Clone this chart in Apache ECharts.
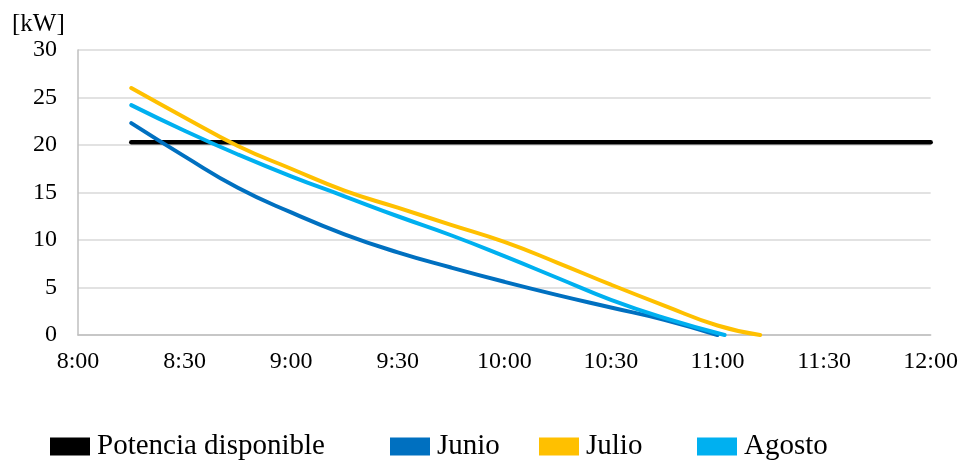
<!DOCTYPE html>
<html>
<head>
<meta charset="utf-8">
<script src="https://cdn.jsdelivr.net/npm/echarts@6/dist/echarts.min.js"></script>
<style>
  html, body { margin: 0; padding: 0; background: #fff; }
  #chart { width: 961px; height: 462px; }
</style>
</head>
<body>
<div id="chart"></div>
<script>
// Hourly power profile: available power vs. demand per month
const unidad = '[kW]';
const ticksHoras = ['8:00', '8:30', '9:00', '9:30', '10:00', '10:30', '11:00', '11:30', '12:00'];

const horasPotencia = ['8:15', '12:00'];
const potencia = [20.3, 20.3];

const horasJunio = ['8:15', '8:30', '8:45', '9:00', '9:15', '9:30', '9:45', '10:00', '10:15', '10:30', '10:45', '11:00'];
const junio = [22.3, 18.8, 15.5, 12.9, 10.6, 8.7, 7.1, 5.6, 4.2, 2.9, 1.6, 0];

const horasJulio = ['8:15', '8:30', '8:45', '9:00', '9:15', '9:30', '9:45', '10:00', '10:15', '10:30', '10:45', '11:00', '11:12'];
const julio = [26.0, 22.9, 19.9, 17.5, 15.2, 13.4, 11.6, 9.8, 7.6, 5.3, 3.1, 1.0, 0];

const horasAgosto = ['8:15', '8:30', '8:45', '9:00', '9:15', '9:30', '9:45', '10:00', '10:15', '10:30', '10:45', '11:02'];
const agosto = [24.2, 21.5, 19.0, 16.7, 14.6, 12.5, 10.5, 8.3, 6.0, 3.7, 1.8, 0];

const FONT = 'Liberation Serif';
const INICIO = 8 * 60;

// "h:mm" -> minutes since 8:00
function aMinutos(h) {
  const [hh, mm] = h.split(':').map(Number);
  return hh * 60 + mm - INICIO;
}
function pares(horas, valores) {
  return horas.map((h, i) => [aMinutos(h), valores[i]]);
}

const chart = echarts.init(document.getElementById('chart'), null, { renderer: 'canvas' });

function serie(nombre, horas, valores, color, ancho) {
  return {
    name: nombre,
    type: 'line',
    data: pares(horas, valores),
    showSymbol: false,
    smooth: 0.5,
    lineStyle: { color: color, width: ancho, cap: 'round' },
    itemStyle: { color: color },
    emphasis: { disabled: true },
    animation: false
  };
}

function leyenda(nombre, izquierda) {
  return {
    data: [nombre],
    left: izquierda,
    top: 432,
    icon: 'rect',
    itemWidth: 40,
    itemHeight: 18,
    padding: 0,
    selectedMode: false,
    textStyle: { fontFamily: FONT, fontSize: 29, color: '#000', padding: [0, 0, 0, 2] }
  };
}

chart.setOption({
  backgroundColor: '#fff',
  animation: false,
  title: {
    text: unidad,
    left: 12,
    top: 12,
    padding: 0,
    textStyle: { fontFamily: FONT, fontSize: 25, fontWeight: 'normal', color: '#000' }
  },
  grid: { left: 78, right: 30, top: 50, bottom: 127, containLabel: false },
  legend: [
    leyenda('Potencia disponible', 50),
    leyenda('Junio', 390),
    leyenda('Julio', 539),
    leyenda('Agosto', 697)
  ],
  xAxis: {
    type: 'value',
    min: 0,
    max: 240,
    interval: 30,
    axisLine: { show: true, lineStyle: { color: '#bfbfbf', width: 1.5 } },
    axisTick: { show: false },
    splitLine: { show: false },
    axisLabel: {
      margin: 15,
      fontFamily: FONT,
      fontSize: 24,
      color: '#000',
      formatter: v => ticksHoras[v / 30]
    }
  },
  yAxis: {
    type: 'value',
    min: 0,
    max: 30,
    interval: 5,
    axisLine: { show: true, lineStyle: { color: '#bfbfbf', width: 1.5 } },
    axisTick: { show: false },
    splitLine: { show: true, lineStyle: { color: '#d9d9d9', width: 1.5 } },
    axisLabel: { margin: 21, fontFamily: FONT, fontSize: 24, color: '#000' }
  },
  series: [
    serie('Potencia disponible', horasPotencia, potencia, '#000000', 4.5),
    serie('Junio', horasJunio, junio, '#0070C0', 4),
    serie('Julio', horasJulio, julio, '#FFC000', 4),
    serie('Agosto', horasAgosto, agosto, '#00B0F0', 4)
  ]
});
</script>
</body>
</html>
